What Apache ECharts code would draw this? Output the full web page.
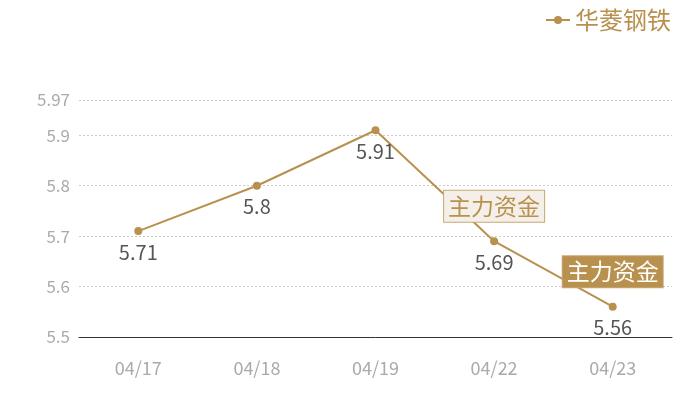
<!DOCTYPE html>
<html><head><meta charset="utf-8">
<script src="https://cdn.jsdelivr.net/npm/echarts@6/dist/echarts.min.js"></script>
<style>html,body{margin:0;padding:0;background:#fff}#c{width:700px;height:400px}</style>
</head><body><div id="c"></div>
<script>
const categories = ['04/17','04/18','04/19','04/22','04/23'];
const prices = [5.71, 5.8, 5.91, 5.69, 5.56];
const seriesName = '华菱钢铁';
const flowLabel = '主力资金';
const flowPoints = [['04/22', 5.69, 'light'], ['04/23', 5.56, 'dark']];

const gold = '#b8914f';
const chart = echarts.init(document.getElementById('c'));
chart.setOption({
  textStyle: {fontFamily: 'Noto Sans CJK SC'},
  legend: {
    right: 24, top: 3, itemWidth: 24, itemHeight: 10, itemGap: 6,
    textStyle: {color: gold, fontSize: 24, fontFamily: 'Noto Sans CJK SC'},
    data: [seriesName]
  },
  grid: {left: 79, right: 28, top: 100, bottom: 63},
  xAxis: {
    type: 'category', data: categories, boundaryGap: true,
    axisLine: {lineStyle: {color: '#333'}},
    axisTick: {show: false},
    axisLabel: {color: '#aaa', fontSize: 18, margin: 22}
  },
  yAxis: {
    type: 'value', min: 5.5, max: 5.97, interval: 0.1,
    axisLine: {show: false}, axisTick: {show: false},
    axisLabel: {color: '#aaa', fontSize: 17, margin: 9},
    splitLine: {lineStyle: {type: [2, 2], color: '#ccc', width: 1}}
  },
  series: [{
    name: seriesName, type: 'line', data: prices,
    symbol: 'circle', symbolSize: 8,
    itemStyle: {color: gold},
    lineStyle: {color: gold, width: 2},
    label: {show: true, position: 'bottom', distance: 7, color: '#555', fontSize: 20},
    markPoint: {
      symbol: 'rect', symbolSize: 0,
      data: flowPoints.map(p => ({
        coord: [p[0], p[1]],
        label: {
          show: true, formatter: flowLabel, offset: [0, -35],
          fontSize: 23, padding: [4, 4, 4, 4],
          color: p[2] === 'dark' ? '#fff' : gold,
          backgroundColor: p[2] === 'dark' ? gold : '#f4efe8',
          borderColor: '#c9a872',
          borderWidth: 1
        }
      }))
    }
  }]
});
</script></body></html>
